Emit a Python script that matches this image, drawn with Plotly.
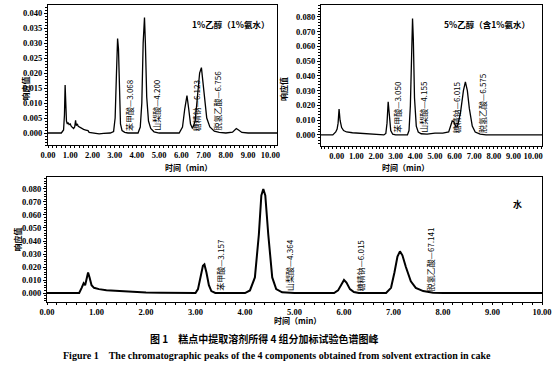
import plotly.graph_objects as go

# ---------------- data ----------------
# Panel 1: 1%乙醇（1%氨水）
t1 = [0.00, 0.60, 0.70, 0.74, 0.77, 0.80, 0.83, 0.87, 0.90, 0.95, 1.00, 1.05, 1.10, 1.15, 1.20, 1.24, 1.27, 1.32,
      1.36, 1.40, 1.50, 1.60, 1.70, 1.80, 1.85, 2.00, 2.30, 2.50, 2.80, 2.95, 3.02, 3.08, 3.13, 3.17, 3.21, 3.26,
      3.33, 3.45, 3.60, 4.05, 4.15, 4.22, 4.28, 4.34, 4.38, 4.44, 4.52, 4.62, 4.77, 5.00, 5.90, 6.05, 6.15, 6.25,
      6.33, 6.41, 6.50, 6.62, 6.72, 6.82, 6.90, 6.96, 7.04, 7.14, 7.28, 7.48, 7.70, 8.00, 8.30, 8.47, 8.57, 8.72,
      9.00, 10.30]
r1 = [0.0, 0.0, 0.001, 0.006, 0.016, 0.010, 0.004, 0.003, 0.0035, 0.0028, 0.003, 0.0022, 0.0018, 0.0015, 0.002,
      0.0042, 0.0025, 0.003, 0.0022, 0.002, 0.0015, 0.0012, 0.001, 0.0008, 0.0002, 0.0, -0.0003, -0.0001, 0.0,
      0.0005, 0.005, 0.020, 0.0315, 0.028, 0.012, 0.003, 0.0008, 0.0002, 0.0, 0.0, 0.002, 0.010, 0.030, 0.0385,
      0.030, 0.012, 0.004, 0.0015, 0.0004, 0.0, 0.0, 0.002, 0.008, 0.0125, 0.008, 0.003, 0.0015, 0.004, 0.012,
      0.020, 0.0218, 0.018, 0.011, 0.005, 0.002, 0.0006, 0.0002, 0.0, 0.0003, 0.0015, 0.001, 0.0002, 0.0, 0.0]

# Panel 2: 5%乙醇（含1%氨水）
t2 = [-0.80, -0.20, -0.05, 0.02, 0.07, 0.12, 0.17, 0.25, 0.35, 0.50, 0.80, 1.20, 1.60, 2.00, 2.40, 2.50, 2.56,
      2.62, 2.68, 2.75, 2.85, 3.00, 3.60, 3.68, 3.75, 3.82, 3.86, 3.90, 3.96, 4.05, 4.15, 4.30, 4.60, 5.00, 5.40,
      5.70, 5.80, 5.88, 5.96, 6.05, 6.15, 6.30, 6.45, 6.55, 6.65, 6.75, 6.90, 7.05, 7.30, 7.60, 10.45]
r2 = [0.0, 0.0, 0.002, 0.004, 0.008, 0.0175, 0.010, 0.005, 0.003, 0.002, 0.0015, 0.001, 0.0008, 0.0003, 0.0,
      0.001, 0.008, 0.0225, 0.012, 0.003, 0.0005, 0.0, 0.0, 0.003, 0.020, 0.065, 0.079, 0.065, 0.025, 0.006,
      0.002, 0.0008, 0.0006, 0.0012, 0.0012, 0.002, 0.006, 0.0095, 0.009, 0.006, 0.006, 0.015, 0.030, 0.036,
      0.030, 0.018, 0.006, 0.002, 0.0005, 0.0, 0.0]

# Panel 3: 水
t3 = [0.00, 0.65, 0.70, 0.74, 0.77, 0.80, 0.83, 0.86, 0.90, 0.95, 1.05, 1.20, 1.40, 1.60, 1.80, 1.85, 2.00, 2.30,
      2.80, 3.00, 3.05, 3.10, 3.15, 3.18, 3.22, 3.27, 3.32, 3.40, 4.00, 4.10, 4.20, 4.28, 4.33, 4.37, 4.41, 4.47,
      4.55, 4.63, 4.75, 5.00, 5.80, 5.88, 5.95, 6.00, 6.05, 6.12, 6.20, 6.30, 6.85, 6.95, 7.02, 7.08, 7.13, 7.18,
      7.25, 7.35, 7.45, 7.60, 7.80, 8.00, 10.00]
r3 = [0.0, 0.0, 0.004, 0.0075, 0.006, 0.010, 0.0158, 0.012, 0.006, 0.004, 0.003, 0.0022, 0.0017, 0.0012, 0.0012,
      0.0008, 0.0004, 0.0002, 0.0, 0.0, 0.003, 0.012, 0.021, 0.022, 0.016, 0.006, 0.0015, 0.0, 0.0, 0.002, 0.012,
      0.045, 0.075, 0.080, 0.075, 0.045, 0.012, 0.003, 0.0005, 0.0, 0.0, 0.002, 0.007, 0.010, 0.008, 0.003,
      0.0008, 0.0, 0.0, 0.004, 0.016, 0.028, 0.032, 0.029, 0.020, 0.009, 0.004, 0.0015, 0.0003, 0.0, 0.0]

labels1 = ["苯甲酸—3.068", "山梨酸—4.200", "糖精钠—6.123", "脱氢乙酸—6.756"]
labx1 = [3.64, 4.85, 6.69, 7.58]
labels2 = ["苯甲酸—3.050", "山梨酸—4.155", "糖精钠—6.015", "脱氢乙酸—6.575"]
labx2 = [3.11, 4.41, 6.11, 7.42]
labels3 = ["苯甲酸—3.157", "山梨酸—4.364", "糖精钠—6.015", "脱氢乙酸—67.141"]
labx3 = [3.49, 4.89, 6.34, 7.74]

# ---------------- figure ----------------
W, H = 554, 376
CJK = "Noto Sans CJK SC"
SERIF = "Liberation Serif"

fig = go.Figure()
fig.add_trace(go.Scatter(x=t1, y=r1, mode="lines", line=dict(color="black", width=1.3),
                         xaxis="x", yaxis="y", showlegend=False))
fig.add_trace(go.Scatter(x=t2, y=r2, mode="lines", line=dict(color="black", width=1.3),
                         xaxis="x2", yaxis="y2", showlegend=False))
fig.add_trace(go.Scatter(x=t3, y=r3, mode="lines", line=dict(color="black", width=2),
                         xaxis="x3", yaxis="y3", showlegend=False))


def px_x(p):
    return p / W


def px_y(p):
    return 1 - p / H


tickfont = dict(family=SERIF, size=8.5, color="black", weight="bold")


def xax(domain, rng, anchor):
    return dict(domain=domain, range=rng, anchor=anchor, tick0=0, dtick=1, tickformat=".2f",
                tickangle=0, automargin=False,
                showgrid=False, zeroline=False, showline=True, linecolor="black", linewidth=1.3,
                mirror=True, ticks="outside", ticklen=2, tickcolor="black", tickfont=tickfont,
                minor=dict(ticks="outside", ticklen=2, dtick=0.2, tickcolor="black"))


def yax(domain, rng, anchor, dt):
    return dict(domain=domain, range=rng, anchor=anchor, tick0=0, dtick=dt, tickformat=".3f",
                automargin=False,
                showgrid=False, zeroline=False, showline=True, linecolor="black", linewidth=1.3,
                mirror=True, ticks="outside", ticklen=3, tickcolor="black", tickfont=tickfont,
                minor=dict(ticks="outside", ticklen=2, dtick=dt / 5, tickcolor="black"))


fig.update_layout(
    width=W, height=H, margin=dict(l=0, r=0, t=0, b=0, autoexpand=False),
    paper_bgcolor="white", plot_bgcolor="white",
    xaxis=xax([px_x(48), px_x(277)], [0, 10.3], "y"),
    yaxis=yax([px_y(145), px_y(5)], [-0.004, 0.0427], "x", 0.005),
    xaxis2=xax([px_x(321), px_x(542)], [-0.8, 10.45], "y2"),
    yaxis2=yax([px_y(146), px_y(5)], [-0.0075, 0.0881], "x2", 0.01),
    xaxis3=xax([px_x(47), px_x(542)], [0, 10], "y3"),
    yaxis3=yax([px_y(302), px_y(177)], [-0.0069, 0.0892], "x3", 0.01),
)

ann = []
labfont = dict(family=CJK, size=8, color="black")
for txts, xs, xr, yr in [(labels1, labx1, "x", "y"), (labels2, labx2, "x2", "y2"), (labels3, labx3, "x3", "y3")]:
    for t, x in zip(txts, xs):
        ann.append(dict(text=t, x=x, y=0, xref=xr, yref=yr, textangle=-90, showarrow=False,
                        xanchor="center", yanchor="bottom", font=labfont))

ann.append(dict(text="1%乙醇（1%氨水）", x=8.2, y=0.0363, xref="x", yref="y", showarrow=False,
                font=dict(family=CJK, size=8.5, color="black", weight="bold")))
ann.append(dict(text="5%乙醇（含1%氨水）", x=7.67, y=0.0753, xref="x2", yref="y2", showarrow=False,
                font=dict(family=CJK, size=8.5, color="black", weight="bold")))
ann.append(dict(text="水", x=9.5, y=0.068, xref="x3", yref="y3", showarrow=False,
                font=dict(family=CJK, size=9, color="black", weight="bold")))

titlefont = dict(family=CJK, size=8, color="black", weight="bold")
for x, y in [(17, 75), (283, 75), (9, 240)]:
    ann.append(dict(text="响应值", x=px_x(x), y=px_y(y), xref="paper", yref="paper", textangle=-90,
                    showarrow=False, font=titlefont))
for x, y in [(163, 167), (431, 167), (297, 328)]:
    ann.append(dict(text="时间（min）", x=px_x(x), y=px_y(y), xref="paper", yref="paper",
                    showarrow=False, font=titlefont))

ann.append(dict(text="图 1　糕点中提取溶剂所得 4 组分加标试验色谱图峰", x=px_x(264), y=px_y(348),
                xref="paper", yref="paper", showarrow=False,
                font=dict(family=CJK, size=10, color="black", weight="bold")))
ann.append(dict(text="Figure 1　The chromatographic peaks of the 4 components obtained from solvent extraction in cake",
                x=px_x(277), y=px_y(363), xref="paper", yref="paper", showarrow=False,
                font=dict(family=SERIF, size=10, color="black", weight="bold")))

fig.update_layout(annotations=ann)
fig.write_html("out.html", config={"displayModeBar": False},
               post_script="document.body.style.margin='0';document.body.style.padding='0';"
                           "document.body.style.overflow='hidden';")
